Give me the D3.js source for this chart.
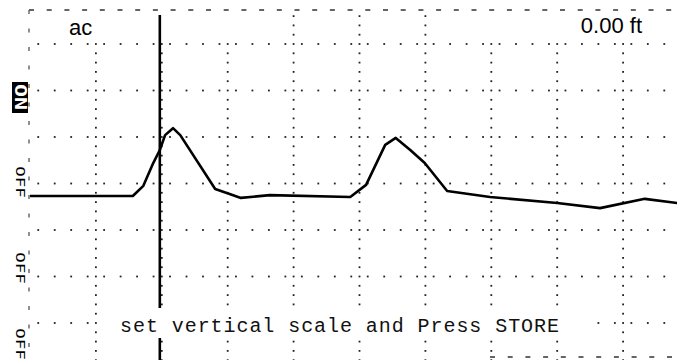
<!DOCTYPE html>
<html>
<head>
<meta charset="utf-8">
<script src="https://cdn.jsdelivr.net/npm/d3@7"></script>
<style>
	body { margin: 0; background: #fff; }
	svg { display: block; }
</style>
</head>
<body>
<div id="drawArea"></div>
<script>
// trace, in screen divisions (x: 0..10, y: 0..6 from the bottom row)
var traceX = [0.00, 1.56, 1.72, 1.87, 1.97, 2.05, 2.17, 2.28, 2.81, 3.04, 3.20, 3.64, 4.86, 5.10, 5.39, 5.55, 5.77, 5.99, 6.33, 6.98, 8.00, 8.65, 9.33, 9.82];
var traceY = [2.73, 2.73, 2.95, 3.44, 3.72, 4.04, 4.19, 4.04, 2.88, 2.77, 2.69, 2.75, 2.71, 2.97, 3.83, 3.98, 3.72, 3.44, 2.84, 2.71, 2.58, 2.47, 2.67, 2.58];
var cursorX = 1.97;

var gridCols = [1, 2, 3, 4, 5, 6, 7, 8, 9];
var gridRows = [0, 1, 2, 3, 4, 5, 6];
var tallCols = [4, 5, 6];

var modeLabel = "ac";
var distanceLabel = "0.00 ft";
var channelLabels = ["ON", "OFF", "OFF", "OFF"];
var promptText = "set vertical scale and Press STORE";

var svg_width = 677;
var svg_height = 360;

var svg = d3.select("#drawArea").append("svg")
	.attr("width", svg_width)
	.attr("height", svg_height);

svg.append("rect")
	.attr("width", svg_width)
	.attr("height", svg_height)
	.attr("fill", "#fff");

var x = d3.scaleLinear().domain([0, 10]).range([30, 689]);
var y = d3.scaleLinear().domain([0, 6]).range([323, 44]);

var dotColor = "#222";

// border dashes
svg.append("line")
	.attr("x1", 29).attr("x2", svg_width)
	.attr("y1", 10).attr("y2", 10)
	.attr("stroke", "#333").attr("stroke-width", 1.5)
	.attr("stroke-dasharray", "5 12.7");

svg.append("line")
	.attr("x1", 29).attr("x2", 29)
	.attr("y1", 10).attr("y2", svg_height)
	.attr("stroke", "#555").attr("stroke-width", 1.3)
	.attr("stroke-dasharray", "4 14.5");

svg.append("line")
	.attr("x1", 490).attr("x2", svg_width)
	.attr("y1", 357).attr("y2", 357)
	.attr("stroke", "#333").attr("stroke-width", 1.5)
	.attr("stroke-dasharray", "5 12.7");

// dotted graticule
var grid = svg.append("g");

gridRows.forEach(function(r) {
	var pts = d3.range(0, 42).map(function(k) { return (k + 0.5) / 4; });
	grid.selectAll(null)
		.data(pts)
		.enter().append("rect")
			.attr("x", function(d) { return x(d) - 0.9; })
			.attr("y", y(r) - 0.9)
			.attr("width", 1.8)
			.attr("height", 1.8)
			.attr("fill", dotColor);
});

gridCols.forEach(function(c) {
	var top = tallCols.indexOf(c) >= 0 ? 6.6 : 6;
	var pts = d3.range(-8, Math.round(top * 5) + 1).map(function(k) { return k / 5; });
	grid.selectAll(null)
		.data(pts)
		.enter().append("rect")
			.attr("x", x(c) - 0.9)
			.attr("y", function(d) { return y(d) - 0.9; })
			.attr("width", 1.8)
			.attr("height", 1.8)
			.attr("fill", dotColor);
});

// waveform
var line = d3.line()
	.x(function(d) { return x(d[0]); })
	.y(function(d) { return y(d[1]); });

svg.append("path")
	.datum(d3.zip(traceX, traceY))
	.attr("d", line)
	.attr("fill", "none")
	.attr("stroke", "#000")
	.attr("stroke-width", 2.6)
	.attr("stroke-linejoin", "round");

// cursor
svg.append("line")
	.attr("x1", x(cursorX)).attr("x2", x(cursorX))
	.attr("y1", 15).attr("y2", svg_height)
	.attr("stroke", "#000")
	.attr("stroke-width", 2.6);

// prompt box
svg.append("rect")
	.attr("x", 100).attr("y", 308)
	.attr("width", 492).attr("height", 30)
	.attr("fill", "#fff");

svg.append("text")
	.attr("x", 120).attr("y", 332)
	.attr("font-family", "'Liberation Mono', 'DejaVu Sans Mono', monospace")
	.attr("font-size", 20)
	.attr("textLength", 439)
	.attr("lengthAdjust", "spacing")
	.attr("fill", "#111")
	.text(promptText);

// header readouts
svg.append("text")
	.attr("x", 69).attr("y", 35)
	.attr("font-family", "'Liberation Sans', Arial, sans-serif")
	.attr("font-size", 22)
	.attr("fill", "#000")
	.text(modeLabel);

svg.append("text")
	.attr("x", 642).attr("y", 33)
	.attr("text-anchor", "end")
	.attr("font-family", "'Liberation Sans', Arial, sans-serif")
	.attr("font-size", 22)
	.attr("fill", "#000")
	.text(distanceLabel);

// channel switches on the left
var labelY = [97, 182, 268, 344];

channelLabels.forEach(function(lbl, i) {
	var on = lbl === "ON";
	if (on) {
		svg.append("rect")
			.attr("x", 12).attr("y", labelY[i] - 15)
			.attr("width", 16).attr("height", 31)
			.attr("fill", "#000");
	}
	svg.append("text")
		.attr("transform", "translate(" + (on ? 15 : 16) + "," + labelY[i] + ") rotate(90) scale(1.45,1)")
		.attr("text-anchor", "middle")
		.attr("font-family", "'DejaVu Sans Mono', monospace")
		.attr("font-size", on ? 15 : 12)
		.attr("font-weight", on ? "bold" : "normal")
		.attr("fill", on ? "#fff" : "#000")
		.text(lbl);
});
</script>
</body>
</html>
